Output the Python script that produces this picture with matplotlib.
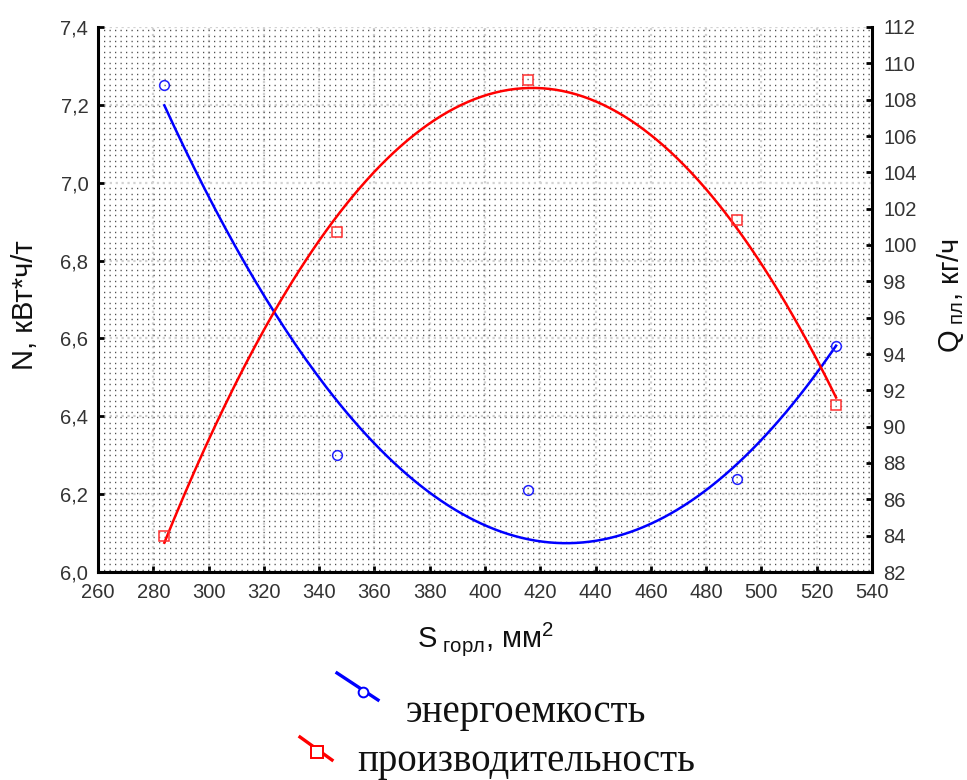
import numpy as np
import matplotlib
matplotlib.use('Agg')
import matplotlib.pyplot as plt
from matplotlib.lines import Line2D
from matplotlib.ticker import MultipleLocator, FuncFormatter

# площадь горловины, мм2
s_gorl = [284, 346.5, 415.5, 491, 527]
# энергоемкость N, кВт*ч/т
energy = [7.25, 6.30, 6.21, 6.24, 6.58]
# производительность Q, кг/ч
prod = [84.0, 100.7, 109.1, 101.4, 91.2]

x_ticks = list(range(260, 541, 20))
n_ticks = [6.0, 6.2, 6.4, 6.6, 6.8, 7.0, 7.2, 7.4]
q_ticks = list(range(82, 113, 2))

plt.rcParams['font.family'] = ['Liberation Sans', 'DejaVu Sans']
plt.rcParams['mathtext.fontset'] = 'custom'
plt.rcParams['mathtext.rm'] = 'Liberation Sans'
plt.rcParams['mathtext.it'] = 'Liberation Sans'

W, H = 967, 780


def px(x, y):
    return x / W, 1 - y / H


fig = plt.figure(figsize=(W / 100, H / 100), dpi=100)
ax = fig.add_axes([98 / W, 1 - 572 / H, 774 / W, 545 / H])
ax2 = ax.twinx()

# точечная заливка поля графика
ax.yaxis.set_minor_locator(MultipleLocator(0.014))
ax.grid(which='minor', axis='y', color='#505050', linewidth=1.0,
        linestyle=(0, (0.9, 3.06)))
ax.grid(which='major', color='#d2d2d2', linewidth=1.6, linestyle=':')
ax.set_axisbelow(True)

# квадратичные аппроксимации
xs = np.linspace(min(s_gorl), max(s_gorl), 200)
fit_n = np.polyval(np.polyfit(s_gorl, energy, 2), xs)
fit_q = np.polyval(np.polyfit(s_gorl, prod, 2), xs)

ax.plot(xs, fit_n, color='#0000ff', linewidth=1.8, zorder=3)
ax.plot(s_gorl, energy, linestyle='none', marker='o', markersize=7,
        markerfacecolor='none', markeredgecolor='#2020ff', markeredgewidth=1.1, zorder=4)
ax2.plot(xs, fit_q, color='#ff0000', linewidth=1.8, zorder=3)
ax2.plot(s_gorl, prod, linestyle='none', marker='s', markersize=6.5,
         markerfacecolor='none', markeredgecolor='#ff3030', markeredgewidth=1.1, zorder=4)

ax.set_xlim(260, 540)
ax.set_ylim(6.0, 7.4)
ax2.set_ylim(82, 112)
ax.set_xticks(x_ticks)
ax.set_yticks(n_ticks)
ax2.set_yticks(q_ticks)
ax.yaxis.set_major_formatter(FuncFormatter(lambda v, p: f'{v:.1f}'.replace('.', ',')))

for a in (ax, ax2):
    a.spines['top'].set_visible(False)
    for sp in a.spines.values():
        sp.set_linewidth(2.2)
        sp.set_color('black')
ax.spines['right'].set_visible(False)
ax2.spines['left'].set_visible(False)
ax2.spines['bottom'].set_visible(False)

ax.tick_params(which='major', direction='in', length=4, width=2, labelsize=14.5,
               labelcolor='#333333', pad=7)
ax.tick_params(which='minor', length=0)
ax.tick_params(axis='x', pad=8)
ax2.tick_params(direction='in', length=4, width=2, labelsize=14.5,
                labelcolor='#333333', pad=8)

# подписи осей
fig.text(*px(25, 305), 'N, кВт*ч/т', rotation=90, ha='center', va='center',
         fontsize=21, color='#111111')
fig.text(*px(950, 295), r'Q$_{\mathregular{\ пл}}$, кг/ч', rotation=90,
         ha='center', va='center', fontsize=21, color='#111111')
fig.text(*px(485, 639), r'S$_{\mathregular{\ горл}}$, мм$^{\mathregular{2}}$',
         ha='center', va='center', fontsize=21, color='#111111')

# легенда
fig.add_artist(Line2D([337 / W, 378 / W], [1 - 673 / H, 1 - 700 / H],
                      color='#0000ff', linewidth=2.4))
fig.add_artist(Line2D([363 / W], [1 - 692 / H], marker='o', markersize=7,
                      markerfacecolor='white', markeredgecolor='#0000ff',
                      markeredgewidth=1.4))
fig.add_artist(Line2D([300 / W, 332 / W], [1 - 737 / H, 1 - 760 / H],
                      color='#ff0000', linewidth=2.4))
fig.add_artist(Line2D([317 / W], [1 - 752 / H], marker='s', markersize=8,
                      markerfacecolor='white', markeredgecolor='#ff0000',
                      markeredgewidth=1.4))
fig.text(*px(526, 722), 'энергоемкость', ha='center', va='baseline',
         fontsize=28, family=['Liberation Serif', 'DejaVu Serif'], color='#111111')
fig.text(*px(526, 771), 'производительность', ha='center', va='baseline',
         fontsize=28, family=['Liberation Serif', 'DejaVu Serif'], color='#111111')

fig.savefig('out.png', dpi=100)
